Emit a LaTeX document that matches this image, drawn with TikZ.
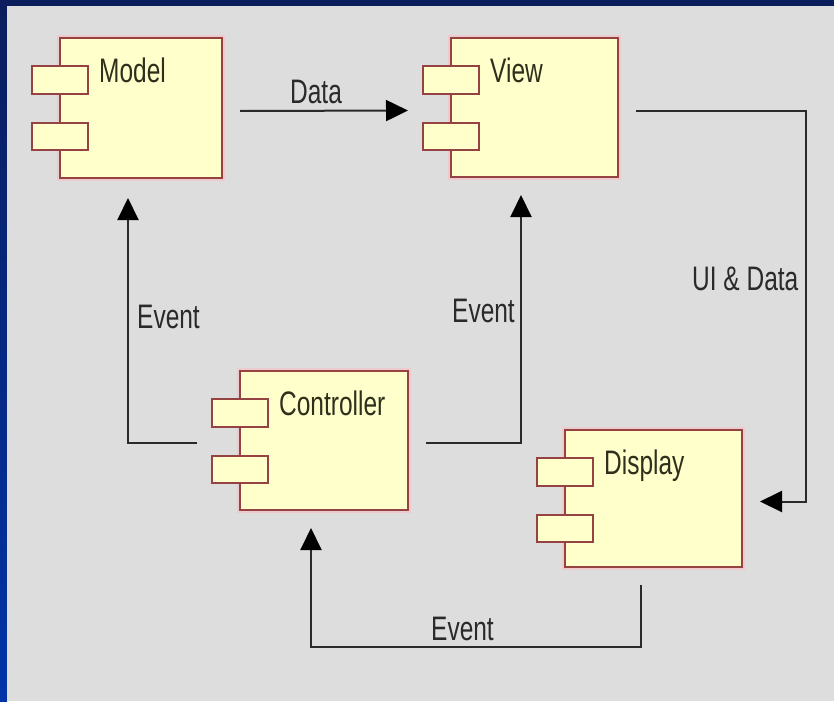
\documentclass[tikz,border=0pt]{standalone}
\usepackage{fontspec}
\setmainfont{Liberation Sans}
\usetikzlibrary{arrows.meta,calc}

\definecolor{slidenavy}{HTML}{0B1D5C}
\definecolor{slideblue}{HTML}{0034A8}
\definecolor{canvasgray}{HTML}{DDDDDD}
\definecolor{compfill}{HTML}{FFFFCC}
\definecolor{compedge}{HTML}{944242}
\definecolor{comphalo}{HTML}{EDCACE}
\definecolor{labelink}{HTML}{2F2F1C}
\definecolor{wireink}{HTML}{2A2A2A}

% condensed sans lettering
\newcommand\narrowtext[1]{\scalebox{0.72}[1]{#1}}

% UML component: main box, two ports on the left edge, title
\newcommand\component[6]{%
  \node[compbox, minimum width=#4pt, minimum height=#5pt] (#1) at (#2,#3) {};
  \node[portbox, minimum height=28pt] (#1-port1) at ($(#1.north west)+(-28,28)$) {};
  \node[portbox, minimum height=27pt] (#1-port2) at ($(#1.north west)+(-28,85)$) {};
  \node[complabel] (#1-title) at ($(#1.north west)+(39,44)$) {\narrowtext{#6}};
}

\begin{document}
\begin{tikzpicture}[x=1pt,y=-1pt,
  compbox/.style={draw=compedge, fill=compfill, line width=1.8pt,
    preaction={draw=comphalo, line width=6pt},
    inner sep=0pt, outer sep=0pt, anchor=north west},
  portbox/.style={draw=compedge, fill=compfill, line width=1.8pt,
    minimum width=56pt, inner sep=0pt, outer sep=0pt, anchor=north west},
  complabel/.style={anchor=base west, inner sep=0pt, text=labelink,
    font=\fontsize{34}{40}\selectfont},
  wirelabel/.style={anchor=base west, inner sep=0pt, text=wireink,
    font=\fontsize{34}{40}\selectfont},
  wire/.style={draw=wireink, line width=2pt,
    -{Triangle[length=22pt,width=21pt,color=black]}},
]
\useasboundingbox (0,0) rectangle (834,701);

% slide frame and canvas
\fill[slidenavy] (0,0) rectangle (834,701);
\shade[top color=slidenavy, bottom color=slideblue] (0,0) rectangle (7,701);
\fill[canvasgray] (7,6) rectangle (834,701);

% components
\component{model}{60}{38}{162}{140}{Model}
\component{view}{451}{38}{167}{139}{View}
\component{controller}{240}{371}{168}{139}{Controller}
\component{display}{565}{430}{177}{137}{Display}

% connectors
\draw[wire] ($(model.east)+(18,3)$) -- ($(view.west)+(-43,3)$);
\node[wirelabel] (datalabel) at (290,103) {\narrowtext{Data}};

\draw[wire] ($(view.east)+(18,3)$) -| ($(display.east)+(64,3)$)
  -- ($(display.east)+(18,3)$);
\node[wirelabel] (uidatalabel) at (692,290) {\narrowtext{UI \& Data}};

\draw[wire] ($(controller.west)+(-43,2.5)$) -| ($(model.south)+(-13,20)$);
\node[wirelabel] (eventleft) at (137,328) {\narrowtext{Event}};

\draw[wire] ($(controller.east)+(18,2.5)$) -| ($(view.south)+(-13.5,18)$);
\node[wirelabel] (eventmid) at (452,322) {\narrowtext{Event}};

\draw[wire] ($(display.south)+(-12.5,18)$) -- ++(0,62)
  -| ($(controller.south)+(-13,18)$);
\node[wirelabel] (eventbottom) at (431,640) {\narrowtext{Event}};
\end{tikzpicture}
\end{document}
